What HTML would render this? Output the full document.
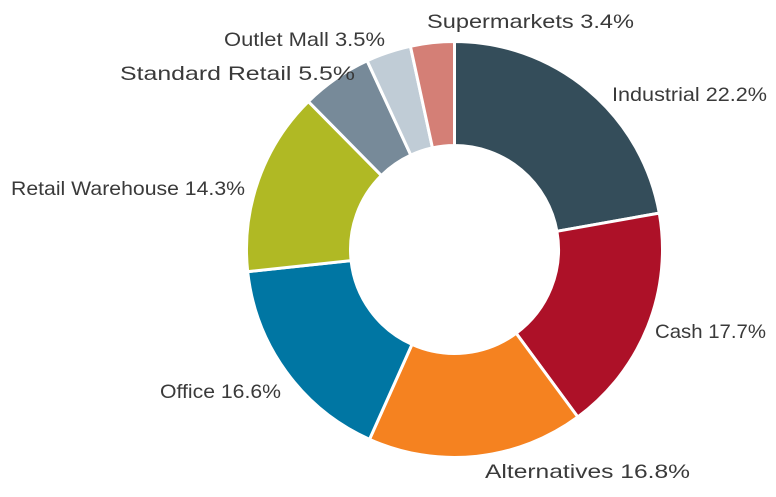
<!DOCTYPE html>
<html><head><meta charset="utf-8"><style>
html,body{margin:0;padding:0;background:#fff;width:776px;height:497px;overflow:hidden}
svg text{font-family:"Liberation Sans",sans-serif;font-size:19.5px;fill:#3a3a3a}
</style></head><body>
<svg id="s" width="776" height="497" xmlns="http://www.w3.org/2000/svg">
<g id="g"></g>
<text x="427" y="28" textLength="207" lengthAdjust="spacingAndGlyphs">Supermarkets 3.4%</text>
<text x="224" y="46" textLength="161" lengthAdjust="spacingAndGlyphs">Outlet Mall 3.5%</text>
<text x="120" y="80" textLength="235" lengthAdjust="spacingAndGlyphs">Standard Retail 5.5%</text>
<text x="612" y="101" textLength="155" lengthAdjust="spacingAndGlyphs">Industrial 22.2%</text>
<text x="11" y="195" textLength="234" lengthAdjust="spacingAndGlyphs">Retail Warehouse 14.3%</text>
<text x="655" y="338" textLength="111" lengthAdjust="spacingAndGlyphs">Cash 17.7%</text>
<text x="160" y="398" textLength="121" lengthAdjust="spacingAndGlyphs">Office 16.6%</text>
<text x="485" y="478" textLength="205" lengthAdjust="spacingAndGlyphs">Alternatives 16.8%</text>
</svg>
<script>
var d=[[22.2,"#344d5a"],[17.7,"#ad1128"],[16.8,"#f58220"],[16.6,"#0076a3"],[14.3,"#b0b924"],[5.5,"#778a99"],[3.5,"#c0ccd6"],[3.4,"#d47f76"]];
var cx=454.5,cy=249.5,R=208,r=104,a=0,h="";
function p(rad,ang){return [cx+rad*Math.sin(ang),cy-rad*Math.cos(ang)];}
d.forEach(function(x){var a0=a/100*2*Math.PI;a+=x[0];var a1=a/100*2*Math.PI;var l=(a1-a0)>Math.PI?1:0;
var A=p(R,a0),B=p(R,a1),C=p(r,a1),D=p(r,a0);
h+='<path d="M'+A+'A'+R+','+R+' 0 '+l+' 1 '+B+'L'+C+'A'+r+','+r+' 0 '+l+' 0 '+D+'Z" fill="'+x[1]+'" stroke="#fff" stroke-width="3" stroke-linejoin="miter"/>';});
document.getElementById("g").innerHTML=h;
</script>
</body></html>
